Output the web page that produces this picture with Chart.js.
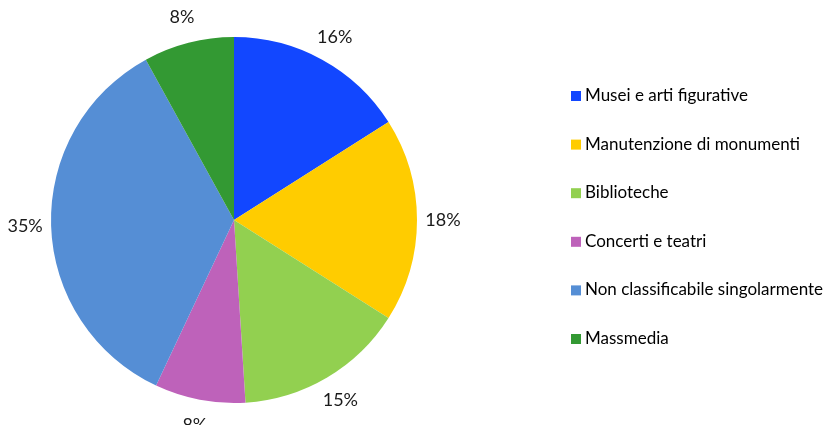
<!DOCTYPE html>
<html>
<head>
<meta charset="utf-8">
<script src="https://cdn.jsdelivr.net/npm/chart.js@4"></script>
<style>
  html, body { margin: 0; padding: 0; background: #ffffff; }
  #wrap { width: 829px; height: 425px; position: relative; }
</style>
</head>
<body>
<div id="wrap"><canvas id="c" width="829" height="425"></canvas></div>
<script>
const categories = [
  'Musei e arti figurative',
  'Manutenzione di monumenti',
  'Biblioteche',
  'Concerti e teatri',
  'Non classificabile singolarmente',
  'Massmedia'
];
const shares = [16, 18, 15, 8, 35, 8];
const sliceColors = ['#1247FF', '#FFCC00', '#92D050', '#BE62BA', '#558ED5', '#339933'];

const FONT = 'Lato, "Open Sans", sans-serif';

// Percentage labels placed just outside each slice
const outsideLabels = {
  id: 'outsideLabels',
  afterDatasetsDraw(chart) {
    const ctx = chart.ctx;
    const meta = chart.getDatasetMeta(0);
    ctx.save();
    ctx.font = '18px ' + FONT;
    ctx.fillStyle = '#1a1a1a';
    ctx.textAlign = 'center';
    ctx.textBaseline = 'middle';
    meta.data.forEach((arc, i) => {
      const p = arc.getProps(['x', 'y', 'startAngle', 'endAngle', 'outerRadius'], true);
      const mid = (p.startAngle + p.endAngle) / 2;
      const d = p.outerRadius + 26;
      ctx.fillText(shares[i] + '%', p.x + Math.cos(mid) * d, p.y + Math.sin(mid) * d);
    });
    ctx.restore();
  }
};

// Vertical legend with square markers on the right side
const sideLegend = {
  id: 'sideLegend',
  afterDraw(chart) {
    const ctx = chart.ctx;
    const labels = chart.data.labels;
    const colors = chart.data.datasets[0].backgroundColor;
    const x0 = 571, top = 91, step = 48.6, box = 10;
    ctx.save();
    ctx.font = '17px ' + FONT;
    ctx.textAlign = 'left';
    ctx.textBaseline = 'alphabetic';
    labels.forEach((t, i) => {
      const y = top + i * step;
      ctx.fillStyle = colors[i];
      ctx.fillRect(x0, y, box, box);
      ctx.fillStyle = '#000000';
      ctx.fillText(t, x0 + 14, y + box);
    });
    ctx.restore();
  }
};

new Chart(document.getElementById('c'), {
  type: 'pie',
  data: {
    labels: categories,
    datasets: [{
      data: shares,
      backgroundColor: sliceColors,
      borderWidth: 0
    }]
  },
  options: {
    responsive: false,
    animation: false,
    layout: { padding: { left: 51, top: 37, right: 412, bottom: 22 } },
    plugins: {
      legend: { display: false },
      tooltip: { enabled: false }
    }
  },
  plugins: [outsideLabels, sideLegend]
});
</script>
</body>
</html>
